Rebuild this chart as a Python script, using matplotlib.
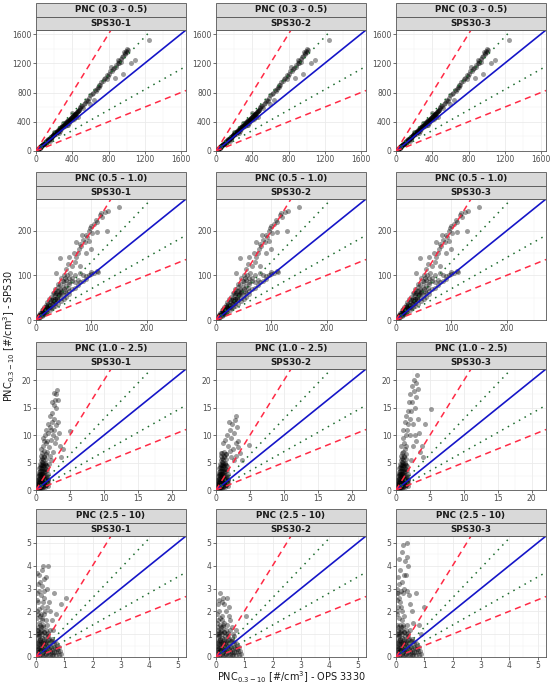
import matplotlib
matplotlib.use('Agg')
import matplotlib.pyplot as plt
from matplotlib.patches import Rectangle
from matplotlib.ticker import MultipleLocator

# size classes (rows) and sensors (columns)
size_bins = ['PNC (0.3 – 0.5)', 'PNC (0.5 – 1.0)', 'PNC (1.0 – 2.5)', 'PNC (2.5 – 10)']
sensors = ['SPS30-1', 'SPS30-2', 'SPS30-3']
axis_max = [1655, 271, 22.1, 5.3]
major_step = [400, 100, 5, 1]

# PNC 0.3-0.5 (OPS, SPS30) - nearly identical for the three sensors
pts_03 = [(5,6),(10,12),(15,16),(20,24),(25,28),(30,35),(35,40),(40,46),(45,50),(50,58),(55,62),(60,70),
          (70,80),(80,92),(90,100),(100,118),(110,125),(120,140),(130,150),(140,160),(150,175),(160,182),
          (170,195),(180,210),(190,218),(200,232),(210,240),(220,255),(230,262),(240,280),(250,290),
          (260,298),(270,315),(280,322),(290,338),(300,345),(310,360),(320,368),(330,385),(340,392),
          (350,408),(360,415),(370,430),(380,440),(390,455),(400,462),(410,480),(420,490),(430,505),
          (440,512),(450,530),(460,545),(470,560),(20,18),(40,40),(60,62),(80,80),(100,104),(120,126),
          (140,150),(160,170),(180,190),(200,214),(220,236),(240,258),(260,276),(280,300),(300,322),
          (320,342),(340,362),(360,384),(380,405),(400,428),(420,452),(440,470),(100,95),(150,140),
          (200,260),(250,250),(300,380),(350,360),(400,520),(420,440),(460,470),(480,600),(500,620),
          (520,590),(540,660),(560,700),(590,720),(620,780),(650,840),(680,870),(700,900),(720,940),
          (740,960),(760,1000),(780,1040),(800,1060),(820,1090),(840,1100),(860,1140),(880,1180),
          (900,1200),(920,1230),(940,1260),(960,1300),(980,1330),(1000,1360),(1010,1380),(990,1370),
          (1050,1200),(1090,1240),(1250,1520),(960,1050),(870,1000),(600,640),(640,700),(780,980),
          (830,1150),(900,1250),(940,1220),(970,1350),(1000,1390),(850,1120),(700,880),(660,820),
          (15,20),(25,32),(35,45),(45,55),(55,68),(65,78),(75,90),(85,100),(95,112),(105,125),(115,135),
          (125,148),(135,160),(145,170),(155,182),(165,195),(175,205),(185,218),(195,230),(205,242),
          (215,252),(225,265),(235,275),(245,288),(255,300),(265,310),(275,322),(285,335),(295,348),
          (305,358),(315,372),(325,382),(335,395),(345,405),(355,418),(365,430),(375,440),(385,452),
          (395,465),(405,475),(415,488),(425,500),(435,512),(445,525),(455,538),(465,550),(475,560),
          (490,590),(510,610),(530,640),(550,680),(570,690),(600,760),(630,800),(670,850),(710,900),
          (750,980),(790,1020),(880,1150),(920,1200),(950,1280),(985,1340)]

# PNC 0.5-1.0
pts_05 = [(2,3),(4,6),(5,9),(6,8),(8,12),(10,14),(10,18),(12,20),(14,17),(15,25),(16,22),(18,28),
          (20,24),(20,32),(22,35),(24,30),(25,40),(26,28),(28,45),(30,36),(30,50),(32,42),(34,55),
          (35,38),(36,60),(38,48),(40,65),(40,44),(42,55),(44,70),(45,50),(46,60),(48,75),(50,56),
          (50,85),(52,65),(55,90),(55,60),(58,72),(60,95),(60,66),(3,5),(6,12),(9,15),(12,16),(15,20),
          (18,22),(22,28),(26,34),(30,40),(34,46),(38,52),(42,58),(46,64),(65,70),(70,72),(75,78),
          (80,85),(85,88),(90,92),(95,100),(100,103),(105,106),(110,110),(112,107),(60,80),(65,95),
          (70,100),(75,90),(80,105),(85,100),(90,98),(70,85),(100,108),(62,105),(65,120),(70,130),
          (72,140),(75,150),(78,160),(80,170),(82,165),(85,180),(88,175),(90,190),(92,185),(95,200),
          (98,205),(100,210),(102,195),(105,215),(108,225),(110,220),(115,235),(118,240),(120,230),
          (125,242),(128,200),(130,245),(150,252),(50,100),(55,115),(58,125),(45,95),(43,139),(37,105),
          (60,140),(68,150),(72,175),(80,120),(90,150),(100,160),(84,190),(96,176),(110,196),
          (5,5),(8,7),(10,9),(12,11),(15,14),(18,16),(20,19),(25,22),(28,26),(30,28),(35,32),(40,36),
          (45,42),(50,46),(55,52),(60,58),(5,12),(8,16),(12,24),(15,30),(18,34),(20,40),(24,46),(28,52),
          (32,60),(36,66),(40,74),(44,80),(48,88),(52,94),(56,100),(10,22),(20,28),(25,34),(30,44),
          (35,48),(40,56),(45,62),(50,70),(55,76),(60,84),(65,88),(30,60),(35,70),(40,80)]

# PNC 1.0-2.5, dense part shared, upper part per sensor
pts_10_base = [(0.1,0.2),(0.2,0.5),(0.3,0.3),(0.3,1.0),(0.4,0.6),(0.4,1.5),(0.5,0.4),(0.5,2.0),(0.5,1.2),
               (0.6,0.8),(0.6,2.5),(0.6,3.0),(0.7,1.5),(0.7,3.5),(0.7,0.5),(0.8,2.2),(0.8,4.0),(0.8,1.0),
               (0.9,3.0),(0.9,4.5),(0.9,0.7),(1.0,2.0),(1.0,5.0),(1.0,3.5),(1.0,1.2),(1.1,4.2),(1.1,5.5),
               (1.1,2.6),(1.2,1.5),(1.2,3.2),(1.2,6.0),(1.3,4.8),(1.3,2.0),(1.4,5.6),(1.4,0.9),(1.4,3.8),
               (1.5,2.8),(1.5,6.5),(1.6,1.6),(1.6,4.4),(1.7,3.0),(1.7,0.8),(1.8,2.0),(0.2,1.8),(0.3,2.5),
               (0.4,3.2),(0.5,4.0),(0.6,4.8),(0.7,5.5),(0.8,6.2),(0.9,6.8),(0.2,0.1),(0.4,0.2),(0.6,0.3),
               (0.8,0.4),(1.0,0.5),(1.2,0.7),(1.5,1.0),(1.8,1.3),(0.5,3.0),(0.7,2.5),(0.9,2.0),(1.1,1.6),
               (0.1,0.5),(0.15,0.9),(0.25,1.3),(0.35,0.8),(0.35,2.0),(0.45,1.0),(0.45,2.7),(0.55,1.6),
               (0.55,3.4),(0.65,2.0),(0.65,4.2),(0.75,1.2),(0.75,2.9),(0.75,4.6),(0.85,1.8),(0.85,3.5),
               (0.85,5.2),(0.95,2.5),(0.95,4.0),(0.95,5.8),(1.05,1.5),(1.05,3.0),(1.05,4.6),(1.15,2.2),
               (1.15,3.8),(1.15,6.2),(1.25,2.8),(1.25,4.3),(1.35,1.2),(1.35,3.4),(1.35,5.0),(1.45,2.2),
               (1.45,4.5),(1.55,3.6),(1.55,1.3),(1.65,2.4),(1.75,1.8),(0.5,0.1),(0.9,0.3),(1.3,0.6),
               (0.3,1.6),(0.2,1.1)]
pts_10_top = [
    [(0.8,7.5),(1.0,8.0),(1.1,9.5),(1.2,7.2),(1.3,10.0),(1.4,8.5),(1.5,11.0),(1.6,9.0),(1.7,12.0),
     (1.8,10.5),(1.9,7.8),(2.0,13.5),(2.1,11.5),(2.2,9.2),(2.3,14.0),(2.4,12.5),(2.5,10.0),(2.6,15.5),
     (2.7,13.0),(2.8,16.5),(2.9,11.8),(3.0,17.5),(3.0,15.0),(3.1,18.3),(3.2,16.5),(3.3,12.5),(3.4,10.5),
     (2.5,7.0),(2.8,8.5),(3.0,9.5),(3.5,8.0),(4.0,7.5),(5.0,10.7),(2.2,5.5),(1.9,4.8),(2.0,6.2),
     (3.7,6.0),(2.6,17.8),(2.4,16.0),(1.6,7.0),(2.2,11.0),(2.7,11.0),(1.2,9.0)],
    [(0.8,6.8),(1.0,8.5),(1.2,7.0),(1.3,9.2),(1.5,6.5),(1.6,10.0),(1.8,8.0),(2.0,11.0),(2.2,9.5),
     (2.4,12.0),(2.5,7.5),(2.7,10.5),(2.8,12.8),(3.0,13.5),(3.1,11.5),(3.2,9.0),(3.3,7.8),(2.2,6.0),
     (2.6,5.5),(3.5,6.8),(4.8,8.2),(3.8,5.5),(1.9,12.5),(2.9,8.5),(2.1,7.2),(2.9,6.2)],
    [(0.8,8.0),(1.0,9.5),(1.1,11.0),(1.2,8.5),(1.3,12.5),(1.4,10.0),(1.5,13.5),(1.6,11.0),(1.7,14.5),
     (1.8,12.0),(1.9,16.0),(2.0,13.0),(2.1,17.5),(2.2,14.5),(2.3,19.0),(2.4,16.0),(2.5,12.0),(2.6,18.0),
     (2.7,20.0),(2.8,15.0),(2.9,17.0),(3.0,19.5),(3.1,21.0),(3.2,18.5),(3.3,13.0),(3.4,10.5),(2.5,8.0),
     (3.0,9.0),(3.5,7.0),(4.0,6.0),(5.2,14.8),(4.2,12.0),(2.2,5.5),(3.8,8.0),(2.8,10.0),(1.0,7.0),
     (1.5,8.0),(2.0,10.0),(1.3,7.5)],
]

# PNC 2.5-10, dense part shared, upper part per sensor
pts_25_base = [(0.02,0.05),(0.03,0.3),(0.05,0.6),(0.05,0.15),(0.06,0.9),(0.08,0.4),(0.08,1.2),(0.1,0.2),
               (0.1,0.7),(0.12,1.0),(0.12,0.5),(0.14,1.4),(0.15,0.1),(0.15,0.8),(0.17,1.3),(0.18,0.3),
               (0.2,1.6),(0.2,0.6),(0.22,1.0),(0.23,0.35),(0.25,1.4),(0.25,0.2),(0.27,0.8),(0.3,0.5),
               (0.3,1.1),(0.32,0.1),(0.35,0.7),(0.36,0.3),(0.38,1.0),(0.4,0.5),(0.4,1.4),(0.42,0.2),
               (0.45,0.8),(0.46,0.35),(0.48,1.2),(0.5,0.1),(0.5,0.5),(0.55,0.3),(0.58,0.8),(0.6,0.1),
               (0.62,0.45),(0.65,0.2),(0.7,0.6),(0.72,0.2),(0.75,0.35),(0.8,0.1),(0.85,0.25),(0.04,0.5),
               (0.07,0.2),(0.09,0.9),(0.13,0.3),(0.16,0.55),(0.19,1.1),(0.21,0.15),(0.24,0.6),(0.28,0.25),
               (0.33,0.9),(0.37,0.6),(0.41,0.9),(0.44,0.1),(0.52,0.7),(0.56,0.1),(0.64,0.6),
               (0.03,0.7),(0.04,1.0),(0.06,0.35),(0.07,1.3),(0.09,0.55),(0.11,1.1),(0.11,0.1),(0.13,0.75),
               (0.14,0.25),(0.16,1.2),(0.17,0.45),(0.19,0.65),(0.21,0.85),(0.23,1.3),(0.24,0.05),
               (0.26,0.45),(0.27,1.1),(0.29,0.7),(0.31,0.3),(0.33,0.55),(0.34,1.2),(0.37,0.15),(0.39,0.4),
               (0.41,0.75),(0.43,1.05),(0.47,0.6),(0.49,0.25),(0.53,0.45),(0.57,0.2),(0.61,0.7),
               (0.66,0.4),(0.69,0.1),(0.74,0.5),(0.78,0.25),(0.82,0.45),(0.88,0.15)]
pts_25_top = [
    [(0.14,1.8),(0.2,2.2),(0.28,2.6),(0.33,2.0),(0.03,2.0),(0.04,2.8),(0.06,3.2),(0.08,2.4),(0.1,3.6),
     (0.12,2.9),(0.15,3.3),(0.18,2.7),(0.2,3.8),(0.22,3.1),(0.25,4.0),(0.28,3.4),(0.3,2.9),(0.35,3.5),
     (0.38,3.0),(0.42,4.0),(0.45,2.4),(0.5,2.0),(0.55,1.6),(0.6,1.2),(0.7,1.9),(1.06,2.6),(0.9,2.3),
     (0.65,2.8),(0.4,2.2),(0.02,1.2),(0.02,2.5),(0.05,3.7),(0.3,1.9),(0.1,1.5),(0.35,1.6),(0.05,1.7),
     (0.12,2.1),(0.18,1.9),(0.25,2.4),(0.08,1.9),(0.22,1.7)],
    [(0.04,1.9),(0.06,2.3),(0.1,2.0),(0.12,2.5),(0.15,2.8),(0.2,2.4),(0.25,2.6),(0.3,2.3),(0.35,2.0),
     (0.4,2.6),(0.45,2.2),(0.5,1.6),(0.55,1.3),(0.6,1.0),(1.06,1.78),(0.7,1.2),(0.45,1.8),(0.02,1.5),
     (0.65,0.9),(0.2,1.8),(0.3,1.5),(0.08,1.6),(0.14,1.7)],
    [(0.03,2.5),(0.04,3.0),(0.06,3.5),(0.08,2.8),(0.1,4.3),(0.12,3.2),(0.15,3.8),(0.18,2.9),(0.2,4.6),
     (0.22,3.3),(0.25,4.9),(0.28,3.6),(0.3,3.0),(0.32,4.2),(0.35,3.6),(0.38,4.4),(0.4,5.0),(0.42,4.0),
     (0.45,2.7),(0.5,2.3),(0.55,2.0),(0.6,1.5),(0.7,2.8),(0.8,1.4),(1.0,2.2),(0.9,1.0),(0.4,2.9),
     (0.05,2.0),(0.15,2.4),(0.25,2.8),(0.1,1.7),(0.2,2.0),(0.3,1.8),(0.05,1.4),(0.03,2.8),(0.08,2.2),
     (0.12,2.6),(0.18,2.2),(0.02,1.9)],
]

# reference lines: 1:1, +-30 %, factor 2
ref_lines = [(1.0, '#1515C8', '-'), (1.3, '#1E6B2E', (0, (1, 3.2))), (0.7, '#1E6B2E', (0, (1, 3.2))),
             (2.0, '#FF2A45', (0, (4, 3))), (0.5, '#FF2A45', (0, (4, 3)))]


def panel_points(r, c):
    if r == 0:
        return pts_03
    if r == 1:
        return pts_05
    if r == 2:
        return pts_10_base + pts_10_top[c]
    return pts_25_base + pts_25_top[c]


W, H = 550, 686
fig = plt.figure(figsize=(W / 100, H / 100), dpi=100)

col_left = [36, 216, 396]
row_bottom = [151, 320, 490, 657]
pw, ph, sh = 150, 121, 13.5

for r in range(4):
    for c in range(3):
        ax = fig.add_axes([col_left[c] / W, 1 - row_bottom[r] / H, pw / W, ph / H])
        pts = panel_points(r, c)
        ax.scatter([p[0] for p in pts], [p[1] for p in pts], s=13, c='black', alpha=0.38, lw=0, zorder=2)
        for slope, col, ls in ref_lines:
            lw = 1.2 if ls == '-' else 1.1
            ax.axline((0, 0), slope=slope, color=col, ls=ls, lw=lw, zorder=3)
        lim = axis_max[r]
        ax.set_xlim(0, lim)
        ax.set_ylim(0, lim)
        step = major_step[r]
        for a in (ax.xaxis, ax.yaxis):
            a.set_major_locator(MultipleLocator(step))
            a.set_minor_locator(MultipleLocator(step / 2))
        ax.grid(which='major', color='#EBEBEB', lw=0.6)
        ax.grid(which='minor', color='#F2F2F2', lw=0.35)
        ax.set_axisbelow(True)
        ax.tick_params(which='major', labelsize=5.5, labelcolor='#4D4D4D', length=2,
                       width=0.5, color='#333333', pad=1.2)
        ax.tick_params(which='minor', length=0)
        for sp in ax.spines.values():
            sp.set_color('#555555')
            sp.set_linewidth(0.6)
        # two stacked strips
        top = H - row_bottom[r] + ph
        for k, lab in enumerate([sensors[c], size_bins[r]]):
            y0 = (top + k * sh) / H
            fig.add_artist(Rectangle((col_left[c] / W, y0), pw / W, sh / H, transform=fig.transFigure,
                                     fc='#D9D9D9', ec='#555555', lw=0.6))
            fig.text((col_left[c] + pw / 2) / W, y0 + sh / 2 / H, lab, ha='center', va='center',
                     fontsize=6.3, fontweight='bold', color='#1A1A1A')

fig.text(9 / W, 1 - 336 / H, 'PNC$_{0.3-10}$ [#/cm$^3$] - SPS30', rotation=90,
         ha='center', va='center', fontsize=7.0, color='#1A1A1A')
fig.text(291 / W, 1 / H, 'PNC$_{0.3-10}$ [#/cm$^3$] - OPS 3330',
         ha='center', va='bottom', fontsize=7.0, color='#1A1A1A')

fig.savefig('out.png', dpi=100)
